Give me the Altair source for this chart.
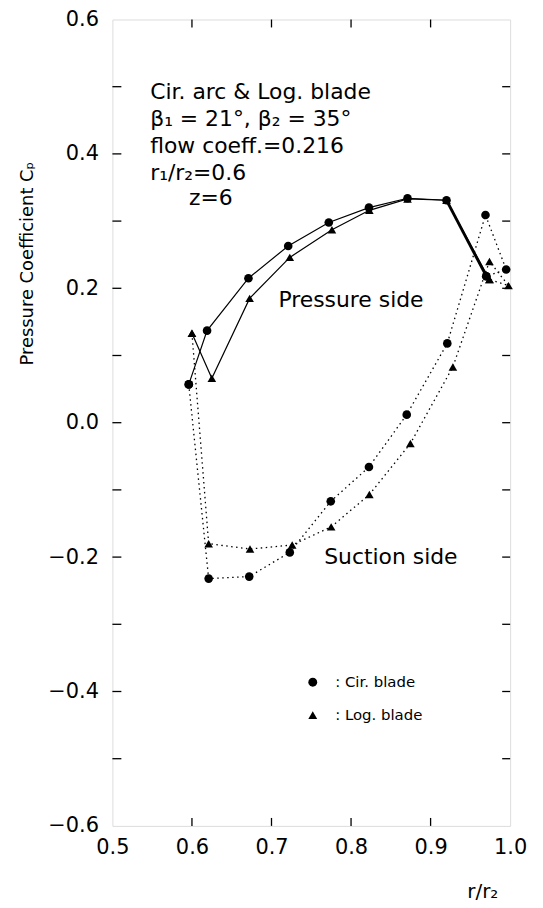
import altair as alt
import pandas as pd

# ---- data ----
cir_ps_r = [0.596, 0.619, 0.671, 0.721, 0.772, 0.8225, 0.871, 0.920, 0.970]
cir_ps_cp = [0.057, 0.137, 0.215, 0.263, 0.298, 0.320, 0.334, 0.331, 0.218]
cir_ss_r = [0.596, 0.621, 0.672, 0.723, 0.7745, 0.8225, 0.870, 0.921, 0.969, 0.995, 0.970]
cir_ss_cp = [0.057, -0.232, -0.229, -0.193, -0.117, -0.066, 0.012, 0.118, 0.309, 0.228, 0.218]
log_ps_r = [0.600, 0.625, 0.6725, 0.723, 0.776, 0.823, 0.871, 0.920, 0.974]
log_ps_cp = [0.133, 0.066, 0.185, 0.246, 0.287, 0.316, 0.333, 0.331, 0.213]
log_ss_r = [0.600, 0.621, 0.673, 0.726, 0.775, 0.823, 0.8746, 0.928, 0.974, 0.998, 0.974]
log_ss_cp = [0.133, -0.180, -0.188, -0.182, -0.155, -0.107, -0.031, 0.083, 0.240, 0.204, 0.213]

blades = ["Cir. blade", "Log. blade"]
x_labels = [0.5, 0.6, 0.7, 0.8, 0.9, 1.0]
y_labels = [-0.6, -0.4, -0.2, 0.0, 0.2, 0.4, 0.6]
x_inner_ticks = [0.6, 0.7, 0.8, 0.9]
y_inner_ticks = [-0.5, -0.4, -0.3, -0.2, -0.1, 0.0, 0.1, 0.2, 0.3, 0.4, 0.5]
note_lines = ["Cir. arc & Log. blade", "β₁ = 21°, β₂ = 35°", "flow coeff.=0.216", "r₁/r₂=0.6"]
note_last = "z=6"

FONT = "DejaVu Sans"

rows = []
for blade, side, rs, cps in [
    (blades[0], "Pressure", cir_ps_r, cir_ps_cp),
    (blades[0], "Suction", cir_ss_r, cir_ss_cp),
    (blades[1], "Pressure", log_ps_r, log_ps_cp),
    (blades[1], "Suction", log_ss_r, log_ss_cp),
]:
    for i, (r, c) in enumerate(zip(rs, cps)):
        rows.append({"blade": blade, "side": side, "i": i, "r": r, "cp": c})
df = pd.DataFrame(rows)

thick = pd.DataFrame({"r": cir_ps_r[-2:], "cp": cir_ps_cp[-2:], "i": [0, 1]})

W, H = 400, 811
TOP = 9

x_enc = alt.X(
    "r:Q",
    scale=alt.Scale(domain=[0.5, 1.0], nice=False, zero=False),
    axis=alt.Axis(
        values=x_labels, format=".1f", grid=False, ticks=False, domain=False,
        labelFontSize=21, labelFont=FONT, labelPadding=11, labelFlush=False,
        labelColor="black",
        title="r/r₂", titleFont=FONT, titleFontSize=20, titleFontWeight="normal",
        titleX=372, titleY=72, titleAlign="center", titleBaseline="alphabetic",
        titleColor="black",
    ),
)
y_enc = alt.Y(
    "cp:Q",
    scale=alt.Scale(domain=[-0.6, 0.6], nice=False, zero=False),
    axis=alt.Axis(
        values=y_labels, format=".1f", grid=False, ticks=False, domain=False,
        labelFontSize=21, labelFont=FONT, labelPadding=14, labelFlush=False,
        labelColor="black",
        title="Pressure Coefficient Cₚ", titleFont=FONT, titleFontSize=18,
        titleFontWeight="normal", titleAngle=270, titleX=-80, titleY=247 - (TOP - 7),
        titleAlign="center", titleBaseline="alphabetic", titleColor="black",
    ),
)

base = alt.Chart(df)

solid = base.transform_filter(alt.datum.side == "Pressure").mark_line(
    color="black", strokeWidth=1.2
).encode(x=x_enc, y=y_enc, detail="blade:N", order="i:Q")

dotted = base.transform_filter(alt.datum.side == "Suction").mark_line(
    color="black", strokeWidth=1.3, strokeDash=[1.5, 3.5]
).encode(x="r:Q", y="cp:Q", detail="blade:N", order="i:Q")

thick_line = alt.Chart(thick).mark_line(color="black", strokeWidth=2.8).encode(
    x="r:Q", y="cp:Q", order="i:Q"
)

points = base.mark_point(filled=True, color="black", opacity=1, size=75).encode(
    x="r:Q",
    y="cp:Q",
    shape=alt.Shape(
        "blade:N",
        scale=alt.Scale(domain=blades, range=["circle", "triangle-up"]),
        legend=alt.Legend(
            title=None, orient="none", legendX=194, legendY=661 - (TOP - 7),
            labelExpr="': ' + datum.label", labelFont=FONT, labelFontSize=15,
            labelColor="black", labelOffset=15, rowPadding=17, padding=0,
            symbolFillColor="black", symbolStrokeColor="black", symbolSize=80,
        ),
    ),
)

dy = TOP - 7
one = pd.DataFrame({"k": [0]})
note = alt.Chart(one).mark_text(
    align="left", baseline="alphabetic", font=FONT, fontSize=22,
    lineBreak="\n", lineHeight=27, color="black"
).encode(x=alt.value(38), y=alt.value(82 - dy), text=alt.value("\n".join(note_lines)))
note2 = alt.Chart(one).mark_text(
    align="left", baseline="alphabetic", font=FONT, fontSize=22, color="black"
).encode(x=alt.value(77), y=alt.value(189 - dy), text=alt.value(note_last))
ps_label = alt.Chart(one).mark_text(
    align="left", baseline="alphabetic", font=FONT, fontSize=22, color="black"
).encode(x=alt.value(167), y=alt.value(291 - dy), text=alt.value("Pressure side"))
ss_label = alt.Chart(one).mark_text(
    align="left", baseline="alphabetic", font=FONT, fontSize=22, color="black"
).encode(x=alt.value(213), y=alt.value(550 - dy), text=alt.value("Suction side"))

xt = pd.DataFrame({"r": x_inner_ticks})
yt = pd.DataFrame({"cp": y_inner_ticks})
tk = dict(color="black", strokeWidth=1.3)
tick_bottom = alt.Chart(xt).mark_rule(**tk).encode(x="r:Q", y=alt.value(H), y2=alt.value(H - 8))
tick_top = alt.Chart(xt).mark_rule(**tk).encode(x="r:Q", y=alt.value(0), y2=alt.value(8))
tick_left = alt.Chart(yt).mark_rule(**tk).encode(y="cp:Q", x=alt.value(0), x2=alt.value(9))
tick_right = alt.Chart(yt).mark_rule(**tk).encode(y="cp:Q", x=alt.value(W), x2=alt.value(W - 8))

chart = alt.layer(
    solid, dotted, thick_line, points, note, note2, ps_label, ss_label,
    tick_bottom, tick_top, tick_left, tick_right,
).properties(
    width=W, height=H,
    autosize=alt.AutoSizeParams(type="none"),
    padding={"left": 105, "top": TOP, "right": 25, "bottom": 78},
    background="white",
).configure_view(stroke="black", strokeWidth=1.6).configure(font=FONT)

chart.save("out.html", embed_options={"renderer": "svg", "actions": False})
